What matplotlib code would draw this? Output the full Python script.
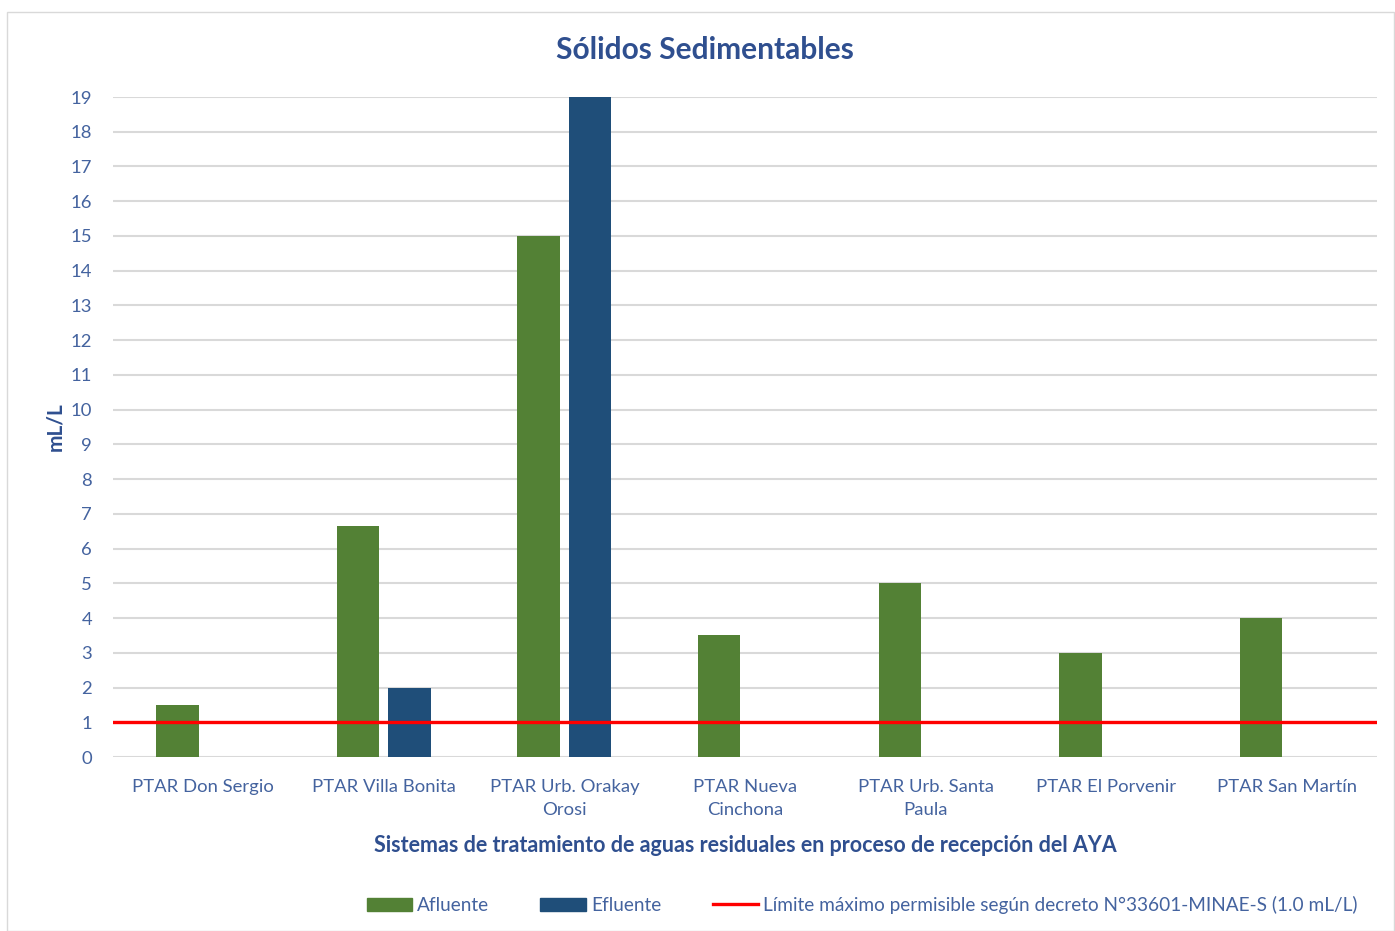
import numpy as np
import matplotlib.pyplot as plt
from matplotlib.patches import Rectangle, Patch
from matplotlib.lines import Line2D

plt.rcParams["font.family"] = ["Lato", "DejaVu Sans"]

categories = [
    "PTAR Don Sergio",
    "PTAR Villa Bonita",
    "PTAR Urb. Orakay\nOrosi",
    "PTAR Nueva\nCinchona",
    "PTAR Urb. Santa\nPaula",
    "PTAR El Porvenir",
    "PTAR San Martín",
]
afluente = [1.5, 6.65, 15.0, 3.5, 5.0, 3.0, 4.0]
efluente = [np.nan, 2.0, 19.0, np.nan, np.nan, np.nan, np.nan]
limite = 1.0

GREEN = "#538135"
BLUE = "#1F4E79"
TEXT = "#44639F"
TITLE = "#2F4F8F"

fig = plt.figure(figsize=(13.95, 9.31), dpi=100)
fig.patches.append(Rectangle((7 / 1395, 0), 1 - 7 / 1395 - 0.001, 1 - 12 / 931,
                             transform=fig.transFigure, fill=False,
                             edgecolor="#D9D9D9", linewidth=1.0))

ax = fig.add_axes([113 / 1395, 1 - 757 / 931, (1377 - 113) / 1395, (757 - 97) / 931])

x = np.arange(len(categories))
w = 0.235
off = 0.1425
ax.bar(x - off, afluente, w, color=GREEN, zorder=2, label="Afluente")
ax.bar(x + off, efluente, w, color=BLUE, zorder=2, label="Efluente")
ax.axhline(limite, color="#FF0000", linewidth=2.4, zorder=3)

ax.set_xlim(-0.5, len(categories) - 0.5)
ax.set_ylim(0, 19)
ax.set_yticks(range(0, 20))
ax.yaxis.grid(True, color="#D9D9D9", linewidth=1.5, zorder=0)
ax.set_axisbelow(True)
for s in ax.spines.values():
    s.set_visible(False)
ax.tick_params(axis="both", length=0, labelsize=13.3, labelcolor=TEXT)
ax.tick_params(axis="y", pad=15)
ax.tick_params(axis="x", pad=16)
ax.set_xticks(x)
ax.set_xticklabels(categories, linespacing=1.55)

fig.text(0.505, 1 - 50 / 931, "Sólidos Sedimentables", ha="center", va="center",
         fontsize=21.5, fontweight="bold", color=TITLE)
fig.text(55 / 1395, 1 - 427 / 931, "mL/L", rotation=90, ha="center", va="center",
         fontsize=15, fontweight="bold", color=TITLE)
fig.text(745 / 1395, 1 - 845 / 931,
         "Sistemas de tratamiento de aguas residuales en proceso de recepción del AYA",
         ha="center", va="center", fontsize=15.5, fontweight="bold", color=TITLE)

handles = [
    Patch(color=GREEN),
    Patch(color=BLUE),
    Line2D([0], [0], color="#FF0000", linewidth=2.4),
]
labels = ["Afluente", "Efluente",
          "Límite máximo permisible según decreto N°33601-MINAE-S (1.0 mL/L)"]
fig.legend(handles, labels, loc="center", bbox_to_anchor=(862 / 1395, 1 - 905 / 931),
           ncol=3, frameon=False, fontsize=13.7, labelcolor=TEXT,
           handlelength=2.4, handleheight=0.7, handletextpad=0.25, columnspacing=2.7)

fig.savefig("out.png", dpi=100)
